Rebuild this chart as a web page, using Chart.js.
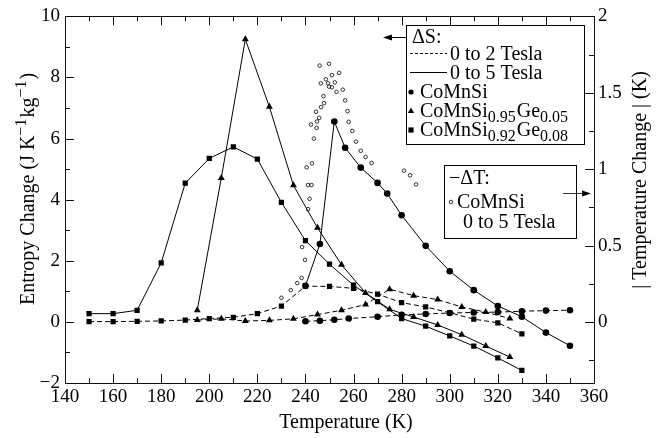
<!DOCTYPE html>
<html>
<head>
<meta charset="utf-8">
<script src="https://cdn.jsdelivr.net/npm/chart.js@4.4.1/dist/chart.umd.min.js"></script>
<style>
  html, body { margin: 0; padding: 0; background: #fff; }
  #wrap { width: 672px; height: 438px; }
</style>
</head>
<body>
<div id="wrap"><canvas id="entropyChart" width="672" height="438"></canvas></div>
<script>
// Entropy change (J/K/kg), left axis
// CoMnSi
const coT5 = [240, 246, 252, 256.5, 263, 270, 274, 280, 290, 300, 310, 320, 330, 340, 350];
const coS5 = [1.18, 2.55, 6.56, 5.7, 5.05, 4.55, 4.2, 3.49, 2.49, 1.66, 1.04, 0.52, 0.17, -0.35, -0.78];
const coT2 = [240, 246, 252, 258, 270, 280, 290, 300, 310, 320, 330, 340, 350];
const coS2 = [0.02, 0.04, 0.07, 0.11, 0.17, 0.23, 0.26, 0.29, 0.31, 0.32, 0.35, 0.37, 0.38];

// CoMnSi0.95Ge0.05
const ge5T = [195, 205, 215, 225, 235, 245, 255, 265, 275, 285, 295, 305, 315, 325];
const ge5S5 = [0.38, 4.71, 9.25, 7.04, 4.47, 3.08, 1.87, 0.95, 0.41, 0.16, -0.1, -0.42, -0.79, -1.15];
const ge5S2 = [0.06, 0.10, 0.03, 0.05, 0.10, 0.24, 0.38, 0.57, 1.07, 0.86, 0.73, 0.49, 0.32, 0.11];

// CoMnSi0.92Ge0.08
const ge8T = [150, 160, 170, 180, 190, 200, 210, 220, 230, 240, 250, 260, 270, 280, 290, 300, 310, 320, 330];
const ge8S5 = [0.27, 0.27, 0.38, 1.93, 4.54, 5.35, 5.73, 5.33, 3.91, 2.66, 1.89, 1.2, 0.66, 0.11, -0.14, -0.46, -0.79, -1.18, -1.59];
const ge8S2 = [0.01, 0.01, 0.02, 0.03, 0.06, 0.11, 0.15, 0.27, 0.52, 1.17, 1.16, 1.1, 0.91, 0.63, 0.49, 0.3, 0.09, -0.03, -0.39];

// |temperature change| (K), right axis, CoMnSi 0 to 5 Tesla
const dtT = [230, 233.9, 236.6, 238.4, 238.6, 239.8, 241.1, 241.7, 241.1, 242.5, 240.5, 242.7, 243.5, 242.3,
             244.6, 244.8, 245.7, 244.4, 246.5, 247.7, 247.5, 246.4, 248.5, 249.4, 249.8, 251, 251, 252.2,
             252.9, 245.9, 249.8, 254, 255.5, 256.5, 257.5, 258, 259.5, 261, 263, 265, 267.5, 281, 283.5, 286];
const dtK = [0.158, 0.208, 0.254, 0.288, 0.49, 0.406, 0.738, 0.806, 0.896, 0.896, 1.012, 1.038, 1.2, 1.292,
             1.27, 1.312, 1.336, 1.376, 1.406, 1.432, 1.478, 1.562, 1.588, 1.562, 1.54, 1.536, 1.616, 1.568,
             1.506, 1.678, 1.69, 1.63, 1.52, 1.45, 1.38, 1.31, 1.25, 1.18, 1.12, 1.08, 1.04, 0.99, 0.96, 0.9];

const xTicks = [140, 160, 180, 200, 220, 240, 260, 280, 300, 320, 340, 360];
const yTicks = [-2, 0, 2, 4, 6, 8, 10];
const y2Ticks = [0, 0.5, 1, 1.5, 2];

const SERIF = '"Liberation Serif", "Times New Roman", serif';
const INK = '#000';

function pts(T, V) {
  return T.map((t, i) => ({ x: t, y: V[i] }));
}

function series(T, V, style, dashed) {
  const r = style === 'triangle' ? 4 : style === 'rect' ? 3.7 : 3.3;
  return {
    data: pts(T, V),
    yAxisID: 'y',
    borderColor: INK,
    borderWidth: 1,
    borderDash: dashed ? [5, 3] : [],
    pointStyle: style,
    pointRadius: r,
    pointBackgroundColor: INK,
    pointBorderColor: INK,
    pointBorderWidth: 0,
    tension: 0,
    fill: false
  };
}

// text with sub/superscripts: parts = [[text, mode], ...]
function richWidth(ctx, parts, size) {
  let w = 0;
  parts.forEach(([txt, mode]) => {
    ctx.font = (mode ? Math.round(size * 0.82) : size) + 'px ' + SERIF;
    w += ctx.measureText(txt).width;
  });
  return w;
}

function richText(ctx, parts, x, y, size) {
  let cx = x;
  parts.forEach(([txt, mode]) => {
    ctx.font = (mode ? Math.round(size * 0.82) : size) + 'px ' + SERIF;
    const dy = mode === 'sub' ? size * 0.26 : mode === 'sup' ? -size * 0.38 : 0;
    ctx.fillText(txt, cx, y + dy);
    cx += ctx.measureText(txt).width + (mode ? 1 : 0);
  });
}

function arrow(ctx, x1, y, x2) {
  const dir = x2 > x1 ? 1 : -1;
  ctx.beginPath();
  ctx.moveTo(x1, y);
  ctx.lineTo(x2 - dir * 6, y);
  ctx.stroke();
  ctx.beginPath();
  ctx.moveTo(x2, y);
  ctx.lineTo(x2 - dir * 9, y - 3);
  ctx.lineTo(x2 - dir * 9, y + 3);
  ctx.closePath();
  ctx.fill();
}

function marker(ctx, style, x, y) {
  ctx.beginPath();
  if (style === 'circle') {
    ctx.arc(x, y, 2.6, 0, Math.PI * 2);
    ctx.fill();
  } else if (style === 'triangle') {
    ctx.moveTo(x, y - 3.5);
    ctx.lineTo(x + 3.2, y + 2);
    ctx.lineTo(x - 3.2, y + 2);
    ctx.closePath();
    ctx.fill();
  } else if (style === 'rect') {
    ctx.fillRect(x - 2.6, y - 2.6, 5.2, 5.2);
  } else {
    ctx.lineWidth = 0.8;
    ctx.arc(x, y, 1.8, 0, Math.PI * 2);
    ctx.stroke();
  }
}

// frame with inward ticks on all four sides
const frameTicks = {
  id: 'frameTicks',
  afterDatasetsDraw(chart) {
    const { ctx, chartArea: a, scales } = chart;
    const { x, y, y2 } = scales;
    ctx.save();
    ctx.strokeStyle = '#111';
    ctx.lineWidth = 1;
    ctx.strokeRect(Math.round(a.left) + 0.5, Math.round(a.top) + 0.5,
                   Math.round(a.right - a.left), Math.round(a.bottom - a.top));
    ctx.beginPath();
    for (let v = 140; v <= 360; v += 10) {
      const px = Math.round(x.getPixelForValue(v)) + 0.5;
      const len = v % 20 === 0 ? 9 : 5;
      ctx.moveTo(px, a.bottom); ctx.lineTo(px, a.bottom - len);
      ctx.moveTo(px, a.top); ctx.lineTo(px, a.top + len);
    }
    for (let v = -2; v <= 10; v += 1) {
      const py = Math.round(y.getPixelForValue(v)) + 0.5;
      const len = v % 2 === 0 ? 9 : 5;
      ctx.moveTo(a.left, py); ctx.lineTo(a.left + len, py);
    }
    for (let v = -0.25; v <= 2; v += 0.25) {
      const py = Math.round(y2.getPixelForValue(v)) + 0.5;
      const len = Math.abs(v * 2 - Math.round(v * 2)) < 1e-6 ? 9 : 5;
      ctx.moveTo(a.right, py); ctx.lineTo(a.right - len, py);
    }
    ctx.stroke();
    ctx.restore();
  },
  afterDraw(chart) {
    const ctx = chart.ctx;
    ctx.save();
    ctx.fillStyle = INK;
    ctx.strokeStyle = INK;
    ctx.textBaseline = 'alphabetic';
    ctx.textAlign = 'left';

    // axis titles
    const leftTitle = [['Entropy Change (J K'], ['\u22121', 'sup'], ['kg'], ['\u22121', 'sup'], [')']];
    ctx.save();
    ctx.translate(34, 190);
    ctx.rotate(-Math.PI / 2);
    richText(ctx, leftTitle, -richWidth(ctx, leftTitle, 20) / 2, 0, 20);
    ctx.restore();

    ctx.save();
    ctx.translate(646, 180);
    ctx.rotate(-Math.PI / 2);
    ctx.font = '20px ' + SERIF;
    ctx.textAlign = 'center';
    ctx.fillText('| Temperature Change | (K)', 0, 0);
    ctx.restore();

    ctx.font = '20px ' + SERIF;
    ctx.textAlign = 'center';
    ctx.fillText('Temperature (K)', 346, 428);
    ctx.textAlign = 'left';

    // entropy legend
    ctx.lineWidth = 1;
    ctx.strokeRect(406.5, 25.5, 178, 119);
    arrow(ctx, 406, 37.5, 383);
    ctx.font = '20px ' + SERIF;
    ctx.fillText('\u0394S:', 412, 43);
    ctx.beginPath();
    ctx.setLineDash([3, 2]);
    ctx.moveTo(410, 53.5); ctx.lineTo(447, 53.5);
    ctx.stroke();
    ctx.setLineDash([]);
    ctx.beginPath();
    ctx.moveTo(410, 72.5); ctx.lineTo(447, 72.5);
    ctx.stroke();
    ctx.fillText('0 to 2 Tesla', 450, 60);
    ctx.fillText('0 to 5 Tesla', 450, 79);
    marker(ctx, 'circle', 411, 92);
    marker(ctx, 'triangle', 411, 111);
    marker(ctx, 'rect', 411, 130);
    richText(ctx, [['CoMnSi']], 420, 98, 20);
    richText(ctx, [['CoMnSi'], ['0.95', 'sub'], ['Ge'], ['0.05', 'sub']], 420, 117, 20);
    richText(ctx, [['CoMnSi'], ['0.92', 'sub'], ['Ge'], ['0.08', 'sub']], 420, 136, 20);

    // temperature legend
    ctx.strokeRect(444.5, 165.5, 132, 73);
    ctx.font = '20px ' + SERIF;
    ctx.fillText('\u2212\u0394T:', 449, 184);
    marker(ctx, 'open', 451, 202);
    ctx.fillText('CoMnSi', 457, 208);
    ctx.fillText('0 to 5 Tesla', 463, 228);
    arrow(ctx, 563, 193.5, 591);
    ctx.restore();
  }
};

const tickFont = { family: SERIF, size: 19 };

new Chart(document.getElementById('entropyChart'), {
  type: 'line',
  data: {
    datasets: [
      {
        data: pts(dtT, dtK),
        yAxisID: 'y2',
        showLine: false,
        pointStyle: 'circle',
        pointRadius: 1.8,
        pointBorderWidth: 0.8,
        pointBorderColor: INK,
        pointBackgroundColor: 'rgba(0,0,0,0)'
      },
      series(coT2, coS2, 'circle', true),
      series(ge5T, ge5S2, 'triangle', true),
      series(ge8T, ge8S2, 'rect', true),
      series(coT5, coS5, 'circle', false),
      series(ge5T, ge5S5, 'triangle', false),
      series(ge8T, ge8S5, 'rect', false)
    ]
  },
  options: {
    responsive: false,
    animation: false,
    devicePixelRatio: 1,
    layout: { padding: { top: 12, left: 0, right: 0, bottom: 0 } },
    plugins: { legend: { display: false }, tooltip: { enabled: false } },
    scales: {
      x: {
        type: 'linear',
        min: 140, max: 360,
        afterBuildTicks: s => { s.ticks = xTicks.map(v => ({ value: v })); },
        afterFit: s => { s.height = 55; },
        grid: { display: false, drawTicks: false },
        border: { display: false },
        ticks: { font: tickFont, color: INK, padding: 3, maxRotation: 0, autoSkip: false }
      },
      y: {
        type: 'linear',
        position: 'left',
        min: -2, max: 10,
        afterBuildTicks: s => { s.ticks = yTicks.map(v => ({ value: v })); },
        afterFit: s => { s.width = 65; },
        grid: { display: false, drawTicks: false },
        border: { display: false },
        ticks: {
          font: tickFont, color: INK, padding: 5, autoSkip: false,
          callback: v => (v < 0 ? '\u2212' + (-v) : String(v))
        }
      },
      y2: {
        type: 'linear',
        position: 'right',
        min: -0.4, max: 2,
        afterBuildTicks: s => { s.ticks = y2Ticks.map(v => ({ value: v })); },
        afterFit: s => { s.width = 78; },
        grid: { display: false, drawTicks: false },
        border: { display: false },
        ticks: { font: tickFont, color: INK, padding: 4, autoSkip: false, callback: v => String(v) }
      }
    }
  },
  plugins: [frameTicks]
});
</script>
</body>
</html>
